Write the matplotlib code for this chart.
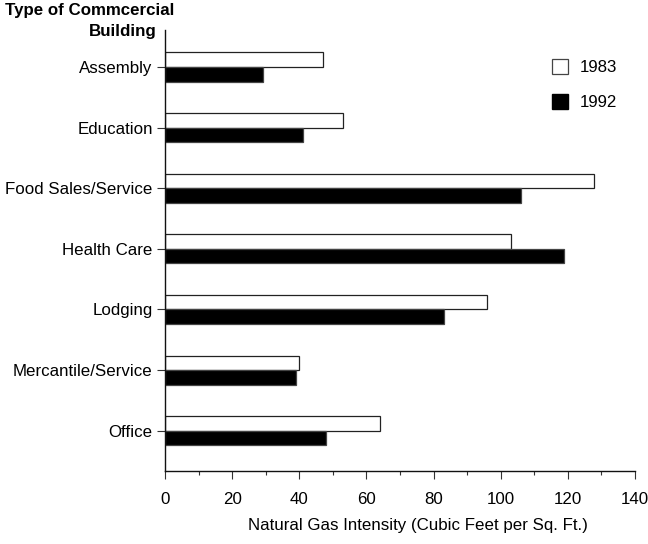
import matplotlib
matplotlib.use("Agg")
import matplotlib.pyplot as plt
from matplotlib.patches import Patch
from matplotlib.ticker import MultipleLocator
import numpy as np

plt.rcParams["font.family"] = ["Liberation Sans", "DejaVu Sans"]

categories = ["Assembly", "Education", "Food Sales/Service", "Health Care",
              "Lodging", "Mercantile/Service", "Office"]
gas_1983 = [47, 53, 128, 103, 96, 40, 64]
gas_1992 = [29, 41, 106, 119, 83, 39, 48]

FS = 12.2

fig = plt.figure(figsize=(6.48, 5.44), dpi=100)
ax = fig.add_axes([0.2551, 0.1347, 0.7244, 0.8101])

y = np.arange(len(categories))
h = 0.24
ax.barh(y - h / 2, gas_1983, height=h, color="white", edgecolor="#222222", lw=0.9, label="1983")
ax.barh(y + h / 2, gas_1992, height=h, color="black", edgecolor="#444444", lw=0.9, label="1992")

ax.set_ylim(6.66, -0.61)
ax.set_xlim(0, 140)
ax.set_yticks(y)
ax.set_yticklabels(categories, fontsize=FS)
ax.xaxis.set_major_locator(MultipleLocator(20))
ax.xaxis.set_minor_locator(MultipleLocator(10))
ax.tick_params(axis="x", which="major", length=6, width=0.8, color="#333333", labelsize=FS, pad=9)
ax.tick_params(axis="x", which="minor", length=3, width=0.8, color="#333333")
ax.tick_params(axis="y", length=6, width=0.8, color="#333333", pad=3)
for s in ["top", "right"]:
    ax.spines[s].set_visible(False)
for s in ["left", "bottom"]:
    ax.spines[s].set_linewidth(1.0)
    ax.spines[s].set_color("#111111")

ax.set_xlabel("Natural Gas Intensity (Cubic Feet per Sq. Ft.)", fontsize=FS)
ax.xaxis.set_label_coords(0.538, -0.108)

fig.text(5 / 648, 1 - 3 / 544, "Type of Commcercial", ha="left", va="top",
         fontsize=FS, fontweight="bold")
fig.text(157 / 648, 1 - 24 / 544, "Building", ha="right", va="top",
         fontsize=FS, fontweight="bold")

handles = [Patch(facecolor="white", edgecolor="#444444", lw=0.9, label="1983"),
           Patch(facecolor="black", edgecolor="black", label="1992")]
ax.legend(handles=handles, loc="upper left", bbox_to_anchor=(552 / 648, 1 - 59 / 544),
          bbox_transform=fig.transFigure, frameon=False, fontsize=FS,
          handlelength=0.95, handleheight=1.0, handletextpad=0.7, labelspacing=1.1,
          borderaxespad=0, borderpad=0)

fig.savefig("out.png", dpi=100)
